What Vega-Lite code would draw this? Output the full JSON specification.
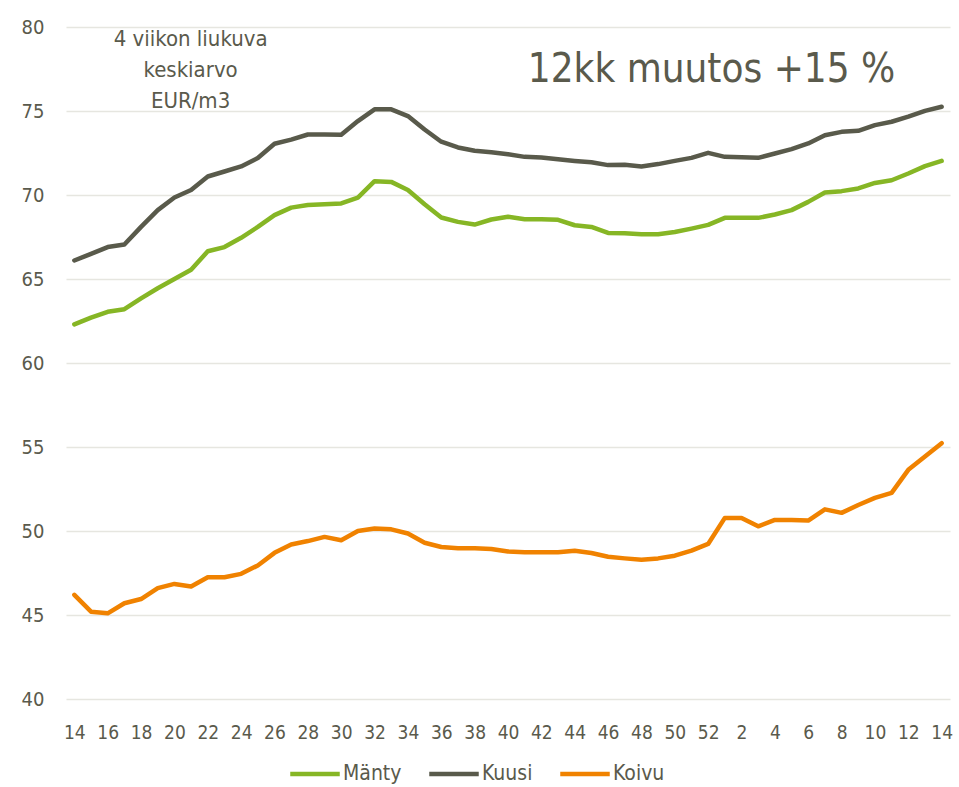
{
  "$schema": "https://vega.github.io/schema/vega-lite/v6.json",
  "autosize": "none",
  "width": 884,
  "height": 672,
  "padding": {"left": 66, "top": 27, "right": 9, "bottom": 88},
  "background": "white",
  "config": {
    "font": "DejaVu Sans Condensed, sans-serif",
    "view": {"stroke": null}
  },
  "datasets": {
    "hinnat": [
      {"i":0,"vk":14,"Mänty":62.3,"Kuusi":66.1,"Koivu":46.2},
      {"i":1,"vk":15,"Mänty":62.7,"Kuusi":66.5,"Koivu":45.2},
      {"i":2,"vk":16,"Mänty":63.05,"Kuusi":66.9,"Koivu":45.1},
      {"i":3,"vk":17,"Mänty":63.2,"Kuusi":67.05,"Koivu":45.7},
      {"i":4,"vk":18,"Mänty":63.85,"Kuusi":68.1,"Koivu":45.95},
      {"i":5,"vk":19,"Mänty":64.45,"Kuusi":69.1,"Koivu":46.6},
      {"i":6,"vk":20,"Mänty":65.0,"Kuusi":69.85,"Koivu":46.85},
      {"i":7,"vk":21,"Mänty":65.55,"Kuusi":70.3,"Koivu":46.7},
      {"i":8,"vk":22,"Mänty":66.65,"Kuusi":71.1,"Koivu":47.25},
      {"i":9,"vk":23,"Mänty":66.9,"Kuusi":71.4,"Koivu":47.25},
      {"i":10,"vk":24,"Mänty":67.45,"Kuusi":71.7,"Koivu":47.45},
      {"i":11,"vk":25,"Mänty":68.1,"Kuusi":72.2,"Koivu":47.95},
      {"i":12,"vk":26,"Mänty":68.8,"Kuusi":73.05,"Koivu":48.7},
      {"i":13,"vk":27,"Mänty":69.25,"Kuusi":73.3,"Koivu":49.2},
      {"i":14,"vk":28,"Mänty":69.4,"Kuusi":73.6,"Koivu":49.4},
      {"i":15,"vk":29,"Mänty":69.45,"Kuusi":73.6,"Koivu":49.65},
      {"i":16,"vk":30,"Mänty":69.5,"Kuusi":73.58,"Koivu":49.45},
      {"i":17,"vk":31,"Mänty":69.85,"Kuusi":74.4,"Koivu":50.0},
      {"i":18,"vk":32,"Mänty":70.82,"Kuusi":75.1,"Koivu":50.15},
      {"i":19,"vk":33,"Mänty":70.78,"Kuusi":75.1,"Koivu":50.1},
      {"i":20,"vk":34,"Mänty":70.3,"Kuusi":74.7,"Koivu":49.85},
      {"i":21,"vk":35,"Mänty":69.45,"Kuusi":73.9,"Koivu":49.3},
      {"i":22,"vk":36,"Mänty":68.66,"Kuusi":73.17,"Koivu":49.05},
      {"i":23,"vk":37,"Mänty":68.4,"Kuusi":72.83,"Koivu":48.97},
      {"i":24,"vk":38,"Mänty":68.24,"Kuusi":72.63,"Koivu":48.97},
      {"i":25,"vk":39,"Mänty":68.54,"Kuusi":72.55,"Koivu":48.93},
      {"i":26,"vk":40,"Mänty":68.7,"Kuusi":72.43,"Koivu":48.78},
      {"i":27,"vk":41,"Mänty":68.56,"Kuusi":72.27,"Koivu":48.73},
      {"i":28,"vk":42,"Mänty":68.56,"Kuusi":72.23,"Koivu":48.73},
      {"i":29,"vk":43,"Mänty":68.52,"Kuusi":72.13,"Koivu":48.73},
      {"i":30,"vk":44,"Mänty":68.2,"Kuusi":72.03,"Koivu":48.83},
      {"i":31,"vk":45,"Mänty":68.1,"Kuusi":71.95,"Koivu":48.69},
      {"i":32,"vk":46,"Mänty":67.74,"Kuusi":71.78,"Koivu":48.47},
      {"i":33,"vk":47,"Mänty":67.72,"Kuusi":71.8,"Koivu":48.37},
      {"i":34,"vk":48,"Mänty":67.66,"Kuusi":71.7,"Koivu":48.29},
      {"i":35,"vk":49,"Mänty":67.66,"Kuusi":71.84,"Koivu":48.37},
      {"i":36,"vk":50,"Mänty":67.8,"Kuusi":72.03,"Koivu":48.53},
      {"i":37,"vk":51,"Mänty":68.0,"Kuusi":72.21,"Koivu":48.83},
      {"i":38,"vk":52,"Mänty":68.22,"Kuusi":72.51,"Koivu":49.23},
      {"i":39,"vk":1,"Mänty":68.64,"Kuusi":72.27,"Koivu":50.78},
      {"i":40,"vk":2,"Mänty":68.64,"Kuusi":72.25,"Koivu":50.78},
      {"i":41,"vk":3,"Mänty":68.64,"Kuusi":72.21,"Koivu":50.28},
      {"i":42,"vk":4,"Mänty":68.84,"Kuusi":72.47,"Koivu":50.66},
      {"i":43,"vk":5,"Mänty":69.1,"Kuusi":72.73,"Koivu":50.66},
      {"i":44,"vk":6,"Mänty":69.59,"Kuusi":73.07,"Koivu":50.62},
      {"i":45,"vk":7,"Mänty":70.15,"Kuusi":73.56,"Koivu":51.29},
      {"i":46,"vk":8,"Mänty":70.23,"Kuusi":73.76,"Koivu":51.08},
      {"i":47,"vk":9,"Mänty":70.39,"Kuusi":73.82,"Koivu":51.55},
      {"i":48,"vk":10,"Mänty":70.72,"Kuusi":74.16,"Koivu":51.97},
      {"i":49,"vk":11,"Mänty":70.88,"Kuusi":74.36,"Koivu":52.27},
      {"i":50,"vk":12,"Mänty":71.28,"Kuusi":74.66,"Koivu":53.64},
      {"i":51,"vk":13,"Mänty":71.72,"Kuusi":75.01,"Koivu":54.43},
      {"i":52,"vk":14,"Mänty":72.03,"Kuusi":75.25,"Koivu":55.23}
    ],
    "tekstit": [
      {"i":6.97,"arvo":79.3,"teksti":"4 viikon liukuva\nkeskiarvo\nEUR/m3","koko":22},
      {"i":38.2,"arvo":77.44,"teksti":"12kk muutos +15 %","koko":40}
    ]
  },
  "layer": [
    {
      "data": {"name": "hinnat"},
      "transform": [{"fold": ["Mänty", "Kuusi", "Koivu"], "as": ["laji", "hinta"]}],
      "mark": {"type": "line", "strokeWidth": 4.5, "strokeJoin": "round", "strokeCap": "round"},
      "encoding": {
        "x": {
          "field": "i", "type": "quantitative",
          "scale": {"domain": [-0.5, 52.5], "nice": false, "zero": false},
          "axis": {
            "title": null,
            "values": [0,2,4,6,8,10,12,14,16,18,20,22,24,26,28,30,32,34,36,38,40,42,44,46,48,50,52],
            "tickCount": 100,
            "labelExpr": "datum.value <= 38 ? datum.value + 14 : datum.value - 38",
            "domain": false, "ticks": false, "grid": false,
            "labelFontSize": 19, "labelColor": "#5A5A4C", "labelPadding": 24,
            "labelFlush": false, "labelOverlap": false, "labelBound": false
          }
        },
        "y": {
          "field": "hinta", "type": "quantitative",
          "scale": {"domain": [40, 80], "nice": false, "zero": false},
          "axis": {
            "title": null,
            "values": [40,45,50,55,60,65,70,75,80],
            "tickCount": 20,
            "domain": false, "ticks": false,
            "gridColor": "#E6E6E0", "gridWidth": 1.5,
            "labelFontSize": 20, "labelColor": "#5A5A4C", "labelPadding": 22
          }
        },
        "color": {
          "field": "laji", "type": "nominal",
          "scale": {"domain": ["Mänty", "Kuusi", "Koivu"], "range": ["#86B625", "#595A4B", "#F08200"]},
          "legend": {
            "title": null, "orient": "none", "direction": "horizontal",
            "legendX": 222, "legendY": 720,
            "symbolType": "stroke", "symbolStrokeWidth": 4.5, "symbolSize": 2450,
            "labelFontSize": 21, "labelColor": "#5A5A4C", "columnPadding": 18,
            "labelOffset": 1
          }
        }
      }
    },
    {
      "data": {"name": "tekstit"},
      "mark": {"type": "text", "align": "center", "baseline": "middle", "lineBreak": "\n", "lineHeight": 31, "color": "#5A5A4C"},
      "encoding": {
        "x": {"field": "i", "type": "quantitative"},
        "y": {"field": "arvo", "type": "quantitative"},
        "text": {"field": "teksti"},
        "size": {"field": "koko", "type": "quantitative", "scale": null, "legend": null}
      }
    }
  ]
}
